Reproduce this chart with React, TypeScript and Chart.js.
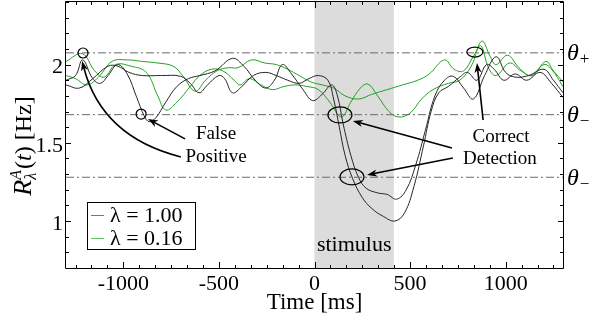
import React, { useEffect, useRef } from 'react';
import { Chart, registerables } from 'chart.js';

Chart.register(...registerables);

const SERIF = '"Liberation Serif", "Times New Roman", Times, serif';

// ---- data (time in ms, rate in Hz) ----
const blackATime = [-1300, -1250, -1213, -1160, -1120, -1080, -1030, -980, -930, -890, -865, -830, -778, -720, -660, -600, -520, -429, -370, -310, -255, -210, -168, -120, -60, -10, 40, 90, 120, 150, 190, 230, 270, 330, 380, 430, 480, 530, 580, 630, 680, 726, 780, 831, 890, 950, 1000, 1050, 1120, 1200, 1250, 1300];
const blackARate = [1.90, 1.93, 2.03, 1.91, 1.88, 1.93, 2.00, 1.94, 1.79, 1.67, 1.635, 1.66, 1.76, 1.86, 1.91, 1.93, 1.96, 2.04, 1.99, 1.90, 1.85, 1.90, 2.00, 1.94, 1.84, 1.77, 1.81, 1.87, 1.80, 1.62, 1.42, 1.28, 1.21, 1.18, 1.17, 1.14, 1.20, 1.36, 1.58, 1.80, 1.90, 1.925, 1.85, 1.78, 1.93, 2.05, 1.95, 1.92, 1.93, 1.97, 1.90, 1.82];

const blackBTime = [-1300, -1230, -1160, -1080, -1030, -970, -900, -800, -700, -650, -604, -560, -500, -470, -429, -380, -320, -255, -200, -140, -81, -30, 20, 70, 100, 130, 160, 200, 250, 300, 360, 420, 470, 520, 570, 610, 650, 700, 760, 800, 850, 900, 940, 990, 1050, 1110, 1180, 1240, 1300];
const blackBRate = [1.87, 1.85, 1.91, 1.99, 1.99, 1.95, 1.93, 1.93, 1.925, 1.88, 1.82, 1.87, 1.93, 1.91, 1.82, 1.86, 1.93, 1.95, 1.93, 1.90, 1.88, 1.91, 1.93, 1.90, 1.78, 1.60, 1.42, 1.27, 1.15, 1.08, 1.03, 1.00, 1.05, 1.22, 1.48, 1.70, 1.82, 1.86, 1.92, 1.95, 1.90, 2.00, 1.97, 1.90, 1.94, 1.90, 1.95, 1.88, 1.79];

const greenATime = [-1300, -1215, -1150, -1100, -1040, -960, -880, -820, -778, -720, -650, -600, -540, -480, -420, -390, -340, -280, -220, -160, -100, -40, 20, 80, 140, 190, 240, 280, 330, 390, 440, 500, 560, 620, 700, 760, 820, 875, 920, 950, 1010, 1070, 1130, 1200, 1240, 1300];
const greenARate = [2.02, 2.07, 1.96, 1.92, 2.00, 1.99, 1.95, 1.80, 1.71, 1.76, 1.86, 1.93, 1.97, 1.96, 1.90, 1.87, 1.91, 1.87, 1.84, 1.86, 1.87, 1.86, 1.84, 1.76, 1.665, 1.76, 1.85, 1.875, 1.80, 1.70, 1.665, 1.69, 1.78, 1.84, 1.88, 1.90, 1.99, 2.15, 2.05, 2.00, 2.06, 1.98, 1.93, 2.00, 1.97, 1.86];

const greenBTime = [-1300, -1250, -1190, -1130, -1060, -980, -900, -820, -740, -690, -625, -570, -510, -450, -400, -330, -260, -200, -140, -80, -20, 40, 100, 160, 230, 300, 380, 460, 540, 600, 680, 730, 780, 830, 870, 910, 950, 1020, 1080, 1140, 1210, 1250, 1300];
const greenBRate = [1.93, 1.91, 1.87, 1.92, 2.02, 2.03, 2.02, 2.01, 1.99, 1.93, 1.83, 1.90, 1.96, 1.98, 1.98, 2.03, 2.01, 2.00, 1.97, 1.93, 1.89, 1.87, 1.85, 1.80, 1.78, 1.81, 1.84, 1.87, 1.90, 1.94, 2.03, 1.97, 1.96, 2.05, 2.12, 1.98, 1.93, 2.01, 1.96, 1.93, 2.02, 1.96, 1.89];

const thresholdRates = [2.075, 1.68, 1.28];
const thresholdSubs = ['+', '\u2212', '\u2212'];
const stimulusWindow = [0, 415];
const seriesLabels = ['\u03bb = 1.00', '\u03bb = 0.16'];
const xRange = [-1300, 1300];
const yRange = [0.7, 2.4];
const xMajorStep = 500;
const xMinorPerMajor = 6;
const yTenths = [7, 8, 9, 10, 11, 12, 13, 14, 15, 16, 17, 18, 19, 20, 21, 22, 23, 24];

// ---- annotations (data coordinates) ----
const circles = [
  { t: -1211, v: 2.074, rx: 5, ry: 5 },
  { t: -907, v: 1.684, rx: 5, ry: 5 },
  { t: 133, v: 1.678, rx: 12, ry: 8 },
  { t: 196, v: 1.282, rx: 12, ry: 8 },
  { t: 839, v: 2.08, rx: 8, ry: 5 },
];
const arrows = [
  { from: [-677, 1.525], to: [-871, 1.652] },
  { from: [-699, 1.41], via: [-1112, 1.537], to: [-1216, 2.023] },
  { from: [882, 1.646], to: [850, 2.01] },
  { from: [719, 1.467], to: [201, 1.64] },
  { from: [724, 1.403], to: [275, 1.295] },
];
const notes = [
  { text: 'False', t: -515, v: 1.557 },
  { text: 'Positive', t: -515, v: 1.41 },
  { text: 'Correct', t: 976, v: 1.537 },
  { text: 'Detection', t: 970, v: 1.397 },
];

const BLACK = '#262626';
const GREEN = '#23a023';

const isXMajor = (v: number) => Math.abs(v / xMajorStep - Math.round(v / xMajorStep)) < 1e-9;
const isYMajor = (v: number) => Math.abs(v * 2 - Math.round(v * 2)) < 1e-9;

const decor = {
  id: 'decor',
  beforeDatasetsDraw(chart: any) {
    const { ctx, chartArea: a, scales } = chart;
    const x = scales.x;
    const x0 = x.getPixelForValue(stimulusWindow[0]);
    const x1 = x.getPixelForValue(stimulusWindow[1]);
    ctx.save();
    ctx.fillStyle = '#dcdcdc';
    ctx.fillRect(x0, a.top, x1 - x0, a.bottom - a.top);
    ctx.restore();
  },
  afterDatasetsDraw(chart: any) {
    const { ctx, chartArea: a, scales } = chart;
    const x = scales.x, y = scales.y;
    const P = (t: number, v: number) => [x.getPixelForValue(t), y.getPixelForValue(v)];
    ctx.save();

    // frame
    ctx.strokeStyle = '#000';
    ctx.lineWidth = 1;
    ctx.beginPath();
    ctx.rect(a.left - 0.5, a.top - 0.5, a.right - a.left + 1, a.bottom - a.top + 1);
    ctx.stroke();

    // inward ticks
    ctx.beginPath();
    x.ticks.forEach((tk: any) => {
      const px = Math.round(x.getPixelForValue(tk.value)) + 0.5;
      const len = isXMajor(tk.value) ? 6 : 3;
      ctx.moveTo(px, a.bottom); ctx.lineTo(px, a.bottom - len);
      ctx.moveTo(px, a.top); ctx.lineTo(px, a.top + len);
    });
    y.ticks.forEach((tk: any) => {
      const py = Math.round(y.getPixelForValue(tk.value)) + 0.5;
      const len = isYMajor(tk.value) ? 5 : 3;
      ctx.moveTo(a.left, py); ctx.lineTo(a.left + len, py);
      ctx.moveTo(a.right, py); ctx.lineTo(a.right - len, py);
    });
    ctx.stroke();

    // stimulus label
    ctx.fillStyle = '#000';
    ctx.font = `22px ${SERIF}`;
    ctx.textAlign = 'center';
    ctx.textBaseline = 'middle';
    ctx.fillText('stimulus', x.getPixelForValue((stimulusWindow[0] + stimulusWindow[1]) / 2), a.bottom - 23);

    // circles
    ctx.lineWidth = 1.2;
    circles.forEach((c) => {
      const [cx, cy] = P(c.t, c.v);
      ctx.beginPath();
      ctx.ellipse(cx, cy, c.rx, c.ry, 0, 0, Math.PI * 2);
      ctx.stroke();
    });

    // arrows
    arrows.forEach((ar: any) => {
      const [fx, fy] = P(ar.from[0], ar.from[1]);
      const [tx, ty] = P(ar.to[0], ar.to[1]);
      let dx, dy;
      ctx.lineWidth = 1.6;
      ctx.beginPath();
      ctx.moveTo(fx, fy);
      if (ar.via) {
        const [vx, vy] = P(ar.via[0], ar.via[1]);
        dx = tx - vx; dy = ty - vy;
        const d = Math.hypot(dx, dy);
        const ex = tx - (dx / d) * 7, ey = ty - (dy / d) * 7;
        ctx.quadraticCurveTo(vx, vy, ex, ey);
      } else {
        dx = tx - fx; dy = ty - fy;
        const d = Math.hypot(dx, dy);
        ctx.lineTo(tx - (dx / d) * 7, ty - (dy / d) * 7);
      }
      ctx.stroke();
      const d = Math.hypot(dx, dy);
      const ux = dx / d, uy = dy / d;
      const L = 10, W = 3.6;
      ctx.beginPath();
      ctx.moveTo(tx, ty);
      ctx.lineTo(tx - ux * L - uy * W, ty - uy * L + ux * W);
      ctx.lineTo(tx - ux * L * 0.7, ty - uy * L * 0.7);
      ctx.lineTo(tx - ux * L + uy * W, ty - uy * L - ux * W);
      ctx.closePath();
      ctx.fill();
    });

    // notes
    ctx.font = `19px ${SERIF}`;
    notes.forEach((n) => {
      const [nx, ny] = P(n.t, n.v);
      ctx.fillText(n.text, nx, ny);
    });

    // theta labels
    thresholdRates.forEach((r, i) => {
      const py = y.getPixelForValue(r) + 1;
      ctx.textAlign = 'left';
      ctx.textBaseline = 'middle';
      ctx.font = `italic 24px ${SERIF}`;
      ctx.fillText('\u03b8', a.right + 4, py);
      const w = ctx.measureText('\u03b8').width;
      ctx.font = `17px ${SERIF}`;
      ctx.fillText(thresholdSubs[i], a.right + 5 + w, py + 6);
    });

    // legend
    const lx = a.left + 21, ly = a.bottom - 66, lw = 108, lh = 47;
    ctx.fillStyle = '#fff';
    ctx.fillRect(lx, ly, lw, lh);
    ctx.lineWidth = 1;
    ctx.strokeStyle = '#000';
    ctx.strokeRect(lx + 0.5, ly + 0.5, lw, lh);
    const legendColors = ['#777777', '#66c266'];
    seriesLabels.forEach((lab, i) => {
      const ry = ly + 13 + i * 23;
      ctx.strokeStyle = legendColors[i];
      ctx.lineWidth = 1;
      ctx.beginPath();
      ctx.moveTo(lx + 4, ry + 0.5); ctx.lineTo(lx + 17, ry + 0.5);
      ctx.stroke();
      ctx.fillStyle = '#000';
      ctx.font = `22px ${SERIF}`;
      ctx.textAlign = 'left';
      ctx.textBaseline = 'middle';
      ctx.fillText(lab, lx + 23, ry + 1);
    });

    // x title
    ctx.fillStyle = '#000';
    ctx.font = `23px ${SERIF}`;
    ctx.textAlign = 'center';
    ctx.textBaseline = 'alphabetic';
    ctx.fillText('Time [ms]', x.getPixelForValue(0), 309);

    // y title (rotated)
    ctx.translate(31, 146);
    ctx.rotate(-Math.PI / 2);
    ctx.font = `italic 26px ${SERIF}`; const wR = ctx.measureText('R').width;
    ctx.font = `italic 16px ${SERIF}`; const wA = ctx.measureText('A').width; const wL = ctx.measureText('\u03bb').width;
    ctx.font = `24px ${SERIF}`; const wP1 = ctx.measureText('(').width; const wRest = ctx.measureText(') [Hz]').width;
    ctx.font = `italic 24px ${SERIF}`; const wT = ctx.measureText('t').width;
    const total = wR + Math.max(wA, wL) + 1 + wP1 + wT + wRest;
    let cx = -total / 2;
    ctx.textAlign = 'left';
    ctx.font = `italic 26px ${SERIF}`; ctx.fillText('R', cx, 0); cx += wR;
    ctx.font = `italic 16px ${SERIF}`; ctx.fillText('A', cx, -10); ctx.fillText('\u03bb', cx, 5); cx += Math.max(wA, wL) + 1;
    ctx.font = `24px ${SERIF}`; ctx.fillText('(', cx, 0); cx += wP1;
    ctx.font = `italic 24px ${SERIF}`; ctx.fillText('t', cx, 0); cx += wT;
    ctx.font = `24px ${SERIF}`; ctx.fillText(') [Hz]', cx, 0);
    ctx.restore();
  },
};

export default function App() {
  const ref = useRef<HTMLCanvasElement>(null);
  useEffect(() => {
    const canvas = ref.current;
    if (!canvas) return;
    const series = [
      { t: blackATime, r: blackARate, color: BLACK, label: seriesLabels[0] },
      { t: blackBTime, r: blackBRate, color: BLACK, label: seriesLabels[0] },
      { t: greenATime, r: greenARate, color: GREEN, label: seriesLabels[1] },
      { t: greenBTime, r: greenBRate, color: GREEN, label: seriesLabels[1] },
    ];
    const datasets: any[] = [
      ...thresholdRates.map((rate) => ({
        label: 'threshold',
        data: xRange.map((t) => ({ x: t, y: rate })),
        borderColor: '#6a6a6a',
        borderWidth: 1,
        borderDash: [8, 3, 2, 3],
        pointRadius: 0,
        tension: 0,
      })),
      ...series.map((s) => ({
        label: s.label,
        data: s.t.map((t, i) => ({ x: t, y: s.r[i] })),
        borderColor: s.color,
        borderWidth: 1,
        pointRadius: 0,
        tension: 0.4,
        fill: false,
      })),
    ];
    const xTicks: number[] = [];
    const kMin = Math.ceil((xRange[0] * xMinorPerMajor) / xMajorStep);
    const kMax = Math.floor((xRange[1] * xMinorPerMajor) / xMajorStep);
    for (let k = kMin; k <= kMax; k++) xTicks.push((k * xMajorStep) / xMinorPerMajor);

    const chart = new Chart(canvas, {
      type: 'line',
      data: { datasets },
      options: {
        responsive: false,
        animation: false,
        layout: { padding: { top: 2, right: 30, left: 0, bottom: 0 } },
        plugins: { legend: { display: false }, tooltip: { enabled: false } },
        scales: {
          x: {
            type: 'linear',
            min: xRange[0],
            max: xRange[1],
            grid: { display: false, drawTicks: false },
            border: { display: false },
            afterBuildTicks: (s: any) => { s.ticks = xTicks.map((v) => ({ value: v })); },
            afterFit: (s: any) => { s.height = 52; s.paddingLeft = 0; s.paddingRight = 0; },
            ticks: {
              autoSkip: false,
              maxRotation: 0,
              padding: 3,
              color: '#000',
              font: { family: SERIF, size: 22 },
              callback: (v: any) => (isXMajor(Number(v)) ? String(Math.round(Number(v))) : ''),
            },
          },
          y: {
            type: 'linear',
            min: yRange[0],
            max: yRange[1],
            grid: { display: false, drawTicks: false },
            border: { display: false },
            afterBuildTicks: (s: any) => { s.ticks = yTenths.map((v) => ({ value: v / 10 })); },
            afterFit: (s: any) => { s.width = 66; s.paddingTop = 0; s.paddingBottom = 0; },
            ticks: {
              autoSkip: false,
              padding: 3,
              labelOffset: 3,
              color: '#000',
              font: { family: SERIF, size: 22 },
              callback: (v: any) => (isYMajor(Number(v)) ? String(Number(v)) : ''),
            },
          },
        },
      } as any,
      plugins: [decor],
    });
    return () => chart.destroy();
  }, []);
  return (
    <div style={{ position: 'fixed', left: 0, top: 0, width: 593, height: 320, background: '#fff' }}>
      <canvas ref={ref} width={593} height={320} style={{ display: 'block' }} />
    </div>
  );
}
